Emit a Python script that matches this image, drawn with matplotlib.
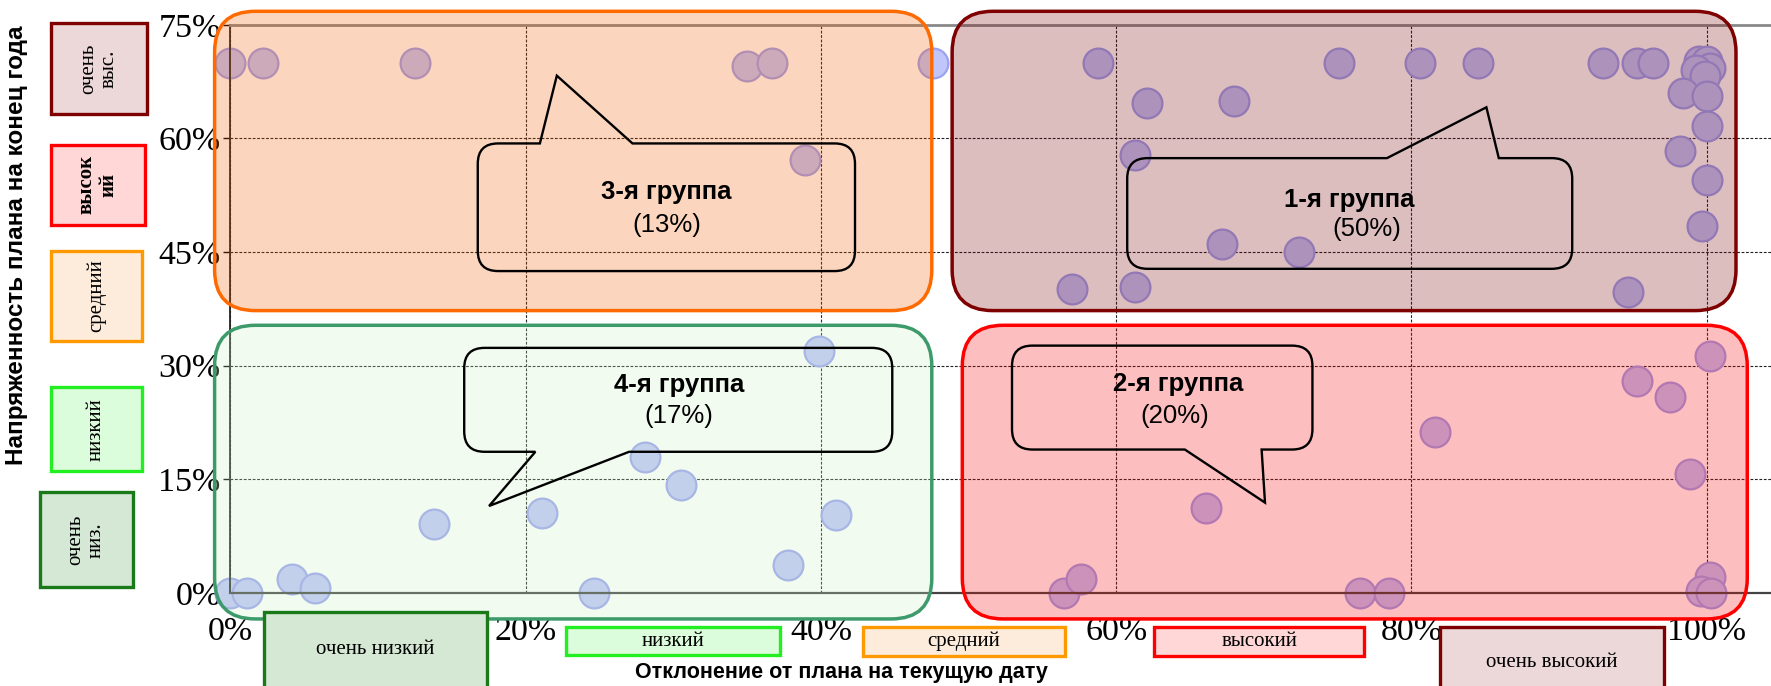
import matplotlib
matplotlib.use('Agg')
import matplotlib.pyplot as plt
from matplotlib.patches import FancyBboxPatch, PathPatch, Rectangle
from matplotlib.path import Path
from matplotlib.transforms import Affine2D

# ---------------- data ----------------
x_dev = [0, 2.2, 12.5, 35.0, 36.7, 38.9, 47.6,
         58.8, 62.1, 68.0, 61.3, 75.1, 80.6, 84.5, 67.2, 72.4, 57.0, 61.3,
         93.0, 95.3, 96.4, 99.5, 100.0, 100.2, 99.3, 99.9, 98.4, 100.0,
         100.0, 98.2, 100.0, 99.7, 94.7,
         56.5, 57.6, 66.1, 76.5, 78.5, 81.6, 95.3, 97.5, 98.9, 100.2, 100.2, 99.6, 100.3,
         0, 1.1, 4.2, 5.7, 13.8, 21.1, 24.6, 28.1, 30.5, 37.8, 39.9, 41.0]
y_ten = [70, 70, 70, 69.6, 70, 57.1, 70,
         70, 64.7, 65.0, 57.8, 70, 70, 70, 46.1, 45.0, 40.1, 40.4,
         70, 70, 70, 70.2, 70.2, 69.3, 69.0, 68.3, 66.0, 65.6,
         61.6, 58.4, 54.5, 48.4, 39.7,
         0, 1.9, 11.2, 0, 0, 21.2, 28.0, 25.9, 15.7, 31.3, 2.1, 0.3, 0,
         0, 0, 1.8, 0.7, 9.1, 10.6, 0, 18.0, 14.2, 3.7, 31.9, 10.3]
x_ticks = [0, 20, 40, 60, 80, 100]
y_ticks = [0, 15, 30, 45, 60, 75]
group_names = ["1-я группа", "2-я группа", "3-я группа", "4-я группа"]
group_shares = ["(50%)", "(20%)", "(13%)", "(17%)"]
y_levels = ["очень\nвыс.", "высок\nий", "средний", "низкий", "очень\nниз."]
x_levels = ["очень низкий", "низкий", "средний", "высокий", "очень высокий"]
x_title = "Отклонение от плана на текущую дату"
y_title = "Напряженность плана на конец года"

# ---------------- layout helpers ----------------
W, H = 1771, 686
BW, BH = 1568.0, 1568.0 * H / W   # layout grid
S = W / BW
fig = plt.figure(figsize=(W / 100, H / 100), dpi=100)
PX = Affine2D().scale(S, -S).translate(0, H)

def frect(x0, y0, x1, y1):
    return [x0 / BW, 1 - y1 / BH, (x1 - x0) / BW, (y1 - y0) / BH]

X0, X100, YTOP, YBOT = 204, 1511, 22, 525
ax = fig.add_axes(frect(X0, YTOP, 1568, YBOT))
ax.set_xlim(0, (1568 - X0) / (X100 - X0) * 100)
ax.set_ylim(0, 75)

serif = 'Liberation Serif'
sans = 'Liberation Sans'

ax.set_xticks(x_ticks)
ax.set_xticklabels([f"{v}%" for v in x_ticks], fontfamily=serif, fontsize=24.5)
ax.set_yticks(y_ticks)
ax.set_yticklabels([f"{v}%" for v in y_ticks], fontfamily=serif, fontsize=24.5)
ax.tick_params(axis='x', length=0, pad=17)
ax.tick_params(axis='y', length=5, width=1, direction='out', pad=2)
ax.set_axisbelow(True)
ax.grid(True, color='#222222', linestyle=(0, (2.5, 1.5)), linewidth=0.8)
ax.spines['right'].set_visible(False)
ax.spines['top'].set_color('#8a8a8a')
ax.spines['top'].set_linewidth(2)
ax.spines['left'].set_color('#222222')
ax.spines['left'].set_linewidth(1.3)
ax.spines['bottom'].set_color('#444444')
ax.spines['bottom'].set_linewidth(1.6)

ax.scatter(x_dev, y_ten, s=460, facecolor='#c0c5fa', edgecolor='#9ca2f0',
           linewidth=1.6, zorder=2, clip_on=False)

# ---------------- group regions ----------------
regions = [  # x0, y0, x1, y1, fill, edge
    (843, 10, 1537, 275, '#770007', '#7f0000'),
    (852, 288, 1547, 548, '#f60000', '#ff0000'),
    (190, 10, 825, 275, '#f35b00', '#ff6a00'),
    (190, 288, 825, 548, '#cbf3c3', '#3d9a6a'),
]
for (x0, y0, x1, y1, fc, ec) in regions:
    p = FancyBboxPatch((x0, y0), x1 - x0, y1 - y0,
                       boxstyle="round,pad=0,rounding_size=36",
                       facecolor=matplotlib.colors.to_rgba(fc, 0.255),
                       edgecolor=ec, linewidth=2.5, transform=PX,
                       clip_on=False, zorder=3)
    ax.add_patch(p)

def callout(x0, y0, x1, y1, r, side, ba, tip, bb):
    M, L, C = Path.MOVETO, Path.LINETO, Path.CURVE3
    v = [(x0 + r, y0)]; c = [M]
    if side == 'top':
        v += [(ba, y0), tip, (bb, y0)]; c += [L, L, L]
    v += [(x1 - r, y0), (x1, y0), (x1, y0 + r)]; c += [L, C, C]
    v += [(x1, y1 - r), (x1, y1), (x1 - r, y1)]; c += [L, C, C]
    if side == 'bottom':
        v += [(bb, y1), tip, (ba, y1)]; c += [L, L, L]
    v += [(x0 + r, y1), (x0, y1), (x0, y1 - r)]; c += [L, C, C]
    v += [(x0, y0 + r), (x0, y0), (x0 + r, y0)]; c += [L, C, C]
    v += [(x0 + r, y0)]; c += [Path.CLOSEPOLY]
    return Path(v, c)

callouts = [  # box, side, base-a, tip, base-b, text centre, share centre
    ((998, 140, 1392, 238), 'top', 1228, (1316, 95), 1327, (1195, 177), (1210, 203)),
    ((896, 306, 1162, 398), 'bottom', 1049, (1120, 445), 1117, (1043, 340), (1040, 368)),
    ((423, 127, 757, 240), 'top', 478, (493, 67), 560, (590, 170), (590, 199)),
    ((411, 308, 790, 400), 'bottom', 474, (433, 448), 557, (601, 341), (601, 368)),
]
for i, (bx, side, ba, tip, bb, tc, sc) in enumerate(callouts):
    path = callout(*bx, 18, side, ba, tip, bb)
    ax.add_patch(PathPatch(path, facecolor='none', edgecolor='black',
                           linewidth=1.7, transform=PX, clip_on=False, zorder=4))
    fig.text(tc[0] / BW, 1 - tc[1] / BH, group_names[i], fontfamily=sans,
             fontweight='bold', fontsize=18.5, ha='center', va='center', zorder=6)
    fig.text(sc[0] / BW, 1 - sc[1] / BH, group_shares[i], fontfamily=sans,
             fontsize=18.5, ha='center', va='center', zorder=6)

# ---------------- level legends ----------------
y_boxes = [  # x0, y0, x1, y1, fill, edge, bold
    (45, 20, 130, 101, '#ecd8d8', '#7f0000', False),
    (45, 128, 128, 199, '#ffd7d7', '#ff0000', True),
    (45, 222, 126, 302, '#fdecdc', '#ff9900', False),
    (45, 343, 126, 417, '#dcfddc', '#22ee22', False),
    (35, 436, 118, 520, '#d5e8d5', '#1a7a1a', False),
]
for lab, (x0, y0, x1, y1, fc, ec, bold) in zip(y_levels, y_boxes):
    fig.add_artist(Rectangle((x0, y0), x1 - x0, y1 - y0, facecolor=fc,
                             edgecolor=ec, linewidth=2.4, transform=PX))
    fig.text(((x0 + x1) / 2) / BW, 1 - ((y0 + y1) / 2) / BH, lab,
             fontfamily=serif, fontsize=15, rotation=90, ha='center',
             va='center', multialignment='center', linespacing=1.1,
             fontweight='bold' if bold else 'normal')

x_boxes = [
    (234, 542, 431, 612, '#d5e8d4', '#1a7a1a', 575),
    (501, 555, 691, 580, '#dcfddc', '#22ee22', 568),
    (764, 555, 943, 581, '#fdecdc', '#ff9900', 568),
    (1022, 555, 1208, 581, '#ffd7d7', '#ff0000', 568),
    (1275, 555, 1473, 612, '#ecd8d8', '#7f0000', 587),
]
for lab, (x0, y0, x1, y1, fc, ec, ty) in zip(x_levels, x_boxes):
    fig.add_artist(Rectangle((x0, y0), x1 - x0, y1 - y0, facecolor=fc,
                             edgecolor=ec, linewidth=2.4, transform=PX))
    fig.text(((x0 + x1) / 2) / BW, 1 - ty / BH, lab, fontfamily=serif,
             fontsize=15, ha='center', va='center')

# ---------------- axis titles ----------------
fig.text(745 / BW, 1 - 595 / BH, x_title, fontfamily=sans, fontweight='bold',
         fontsize=15.5, ha='center', va='center')
fig.text(15 / BW, 1 - 217 / BH, y_title, fontfamily=sans, fontweight='bold',
         fontsize=17.5, ha='center', va='center', rotation=90)

fig.savefig('out.png', dpi=100)
